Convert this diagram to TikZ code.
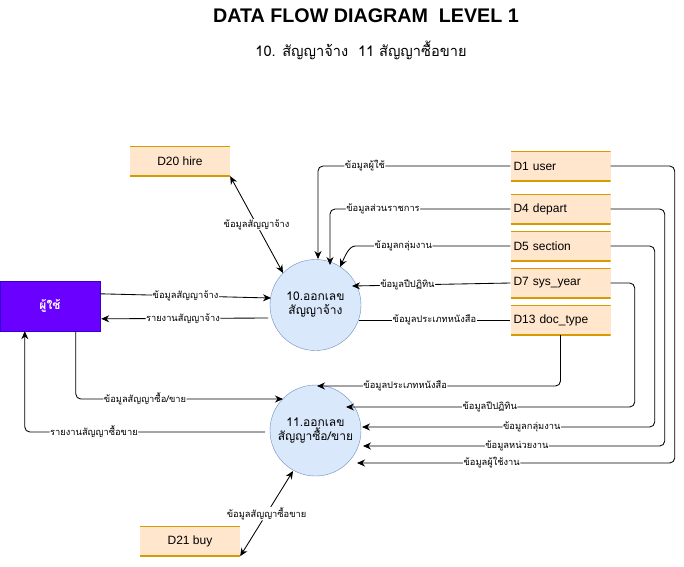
\documentclass[tikz,border=0pt]{standalone}
\usepackage{fontspec}
\setmainfont{Liberation Sans}
\newfontfamily\thai[Script=Thai]{Loma}
\usetikzlibrary{arrows.meta,calc}
\definecolor{storefill}{HTML}{FFE6CC}
\definecolor{storeline}{HTML}{D79B00}
\definecolor{procfill}{HTML}{DAE8FC}
\definecolor{procline}{HTML}{6C8EBF}
\definecolor{entfill}{HTML}{6A00FF}
\definecolor{entline}{HTML}{3700CC}
\tikzset{
  store/.style={rectangle, fill=storefill, minimum width=100pt, minimum height=30pt, inner sep=0pt,
    font=\fontsize{12}{14}\selectfont,
    path picture={\draw[storeline, line width=2pt]
      (path picture bounding box.north west) -- (path picture bounding box.north east)
      (path picture bounding box.south west) -- (path picture bounding box.south east);}},
  lstore/.style={store, text width=94pt, align=left, inner xsep=3pt},
  proc/.style={circle, draw=procline, fill=procfill, minimum size=91pt, inner sep=0pt, align=center,
    font=\fontsize{12}{14}\selectfont\thai},
  ent/.style={rectangle, draw=entline, fill=entfill, minimum width=100pt, minimum height=50pt, text=white,
    font=\fontsize{12}{14}\selectfont\thai\bfseries},
  lab/.style={fill=white, inner sep=0.5pt, font=\fontsize{9.3}{10}\selectfont\thai},
  flow/.style={draw, line width=0.85pt, -{Stealth[length=8pt,width=7pt]}, rounded corners=5pt},
  flow2/.style={flow, {Stealth[length=8pt,width=7pt]}-{Stealth[length=8pt,width=7pt]}},
  plain/.style={draw, line width=0.85pt}
}
\begin{document}
\begin{tikzpicture}[x=1pt,y=-1pt]
\useasboundingbox (0,0) rectangle (684,566);
\fill[white] (0,0) rectangle (684,566);
\node[font=\fontsize{19.7}{22}\selectfont\bfseries] (title) at (366,16) {DATA FLOW DIAGRAM\ \ LEVEL 1};
\node[font=\fontsize{14.6}{16}\selectfont\thai] (sub) at (361,50) {10. สัญญาจ้าง\ \ 11 สัญญาซื้อขาย};

\node[ent] (user) at (50,306) {ผู้ใช้};
\node[proc] (p10) at (315.5,305) {10.ออกเลข\\สัญญาจ้าง};
\node[proc] (p11) at (315.5,430.5) {11.ออกเลข\\สัญญาซื้อ/ขาย};
\node[store] (d20) at (180,161) {D20 hire};
\node[store] (d21) at (190,541) {D21 buy};
\node[lstore] (d1) at (560.5,166) {D1 user};
\node[lstore] (d4) at (560.5,209) {D4 depart};
\node[lstore] (d5) at (560.5,246) {D5 section};
\node[lstore] (d7) at (560.5,283) {D7 sys\_year};
\node[lstore] (d13) at (560.5,320) {D13 doc\_type};

% flows into process 10
\draw[flow] (d1.west) -| node[lab,pos=0.378] {ข้อมูลผู้ใช้} ($(p10.center)+(2.5,-46)$);
\draw[flow] (d4.west) -| node[lab,pos=0.353] {ข้อมูลส่วนราชการ} ($(p10.center)+(14.5,-40)$);
\draw[flow] (d5.west) -- node[lab,pos=0.713] {ข้อมูลกลุ่มงาน} ++(-150,0) to[out=180,in=65] ($(p10.center)+(24.5,-38)$);
\draw[flow] (d7.west) -- node[lab,pos=0.65] {ข้อมูลปีปฏิทิน} ($(p10.center)+(36.5,-19)$);
\draw[plain] ($(p10.center)+(43,15)$) -- node[lab,pos=0.5] {ข้อมูลประเภทหนังสือ} (d13.west);
\draw[flow] ($(user.north east)+(0,13)$) -- node[lab,pos=0.5] {ข้อมูลสัญญาจ้าง} ($(p10.center)+(-44.5,-7)$);
\draw[flow] ($(p10.center)+(-47.5,13)$) -- node[lab,pos=0.51] {รายงานสัญญาจ้าง} ($(user.north east)+(1,38)$);
\draw[flow2] (d20.south east) -- node[lab,pos=0.5] {ข้อมูลสัญญาจ้าง} ($(p10.center)+(-32.5,-32)$);

% flows of process 11
\draw[flow] ($(user.south west)+(76,0)$) |- node[lab,pos=0.667] {ข้อมูลสัญญาซื้อ/ขาย} ($(p11.center)+(-32.5,-31.5)$);
\draw[flow] ($(p11.center)+(-50.5,1.5)$) -| node[lab,pos=0.356] {รายงานสัญญาซื้อขาย} ($(user.south west)+(25,0)$);
\draw[flow2] (d21.south east) -- node[lab,pos=0.5] {ข้อมูลสัญญาซื้อขาย} ($(p11.center)+(-22.5,40.5)$);
\draw[flow] (d13.south) |- node[lab,pos=0.819] {ข้อมูลประเภทหนังสือ} ($(p11.center)+(1.5,-44.5)$);
\draw[flow] (d7.east) -- ++(24,0) |- node[lab,pos=0.751] {ข้อมูลปีปฏิทิน} ($(p11.center)+(30.5,-23.5)$);
\draw[flow] (d5.east) -- ++(44,0) |- node[lab,pos=0.71] {ข้อมูลกลุ่มงาน} ($(p11.center)+(46.5,-3.5)$);
\draw[flow] (d4.east) -- ++(54,0) |- node[lab,pos=0.745] {ข้อมูลหน่วยงาน} ($(p11.center)+(47.5,15.5)$);
\draw[flow] (d1.east) -- ++(64,0) |- node[lab,pos=0.788] {ข้อมูลผู้ใช้งาน} ($(p11.center)+(41.5,32.5)$);
\end{tikzpicture}
\end{document}
